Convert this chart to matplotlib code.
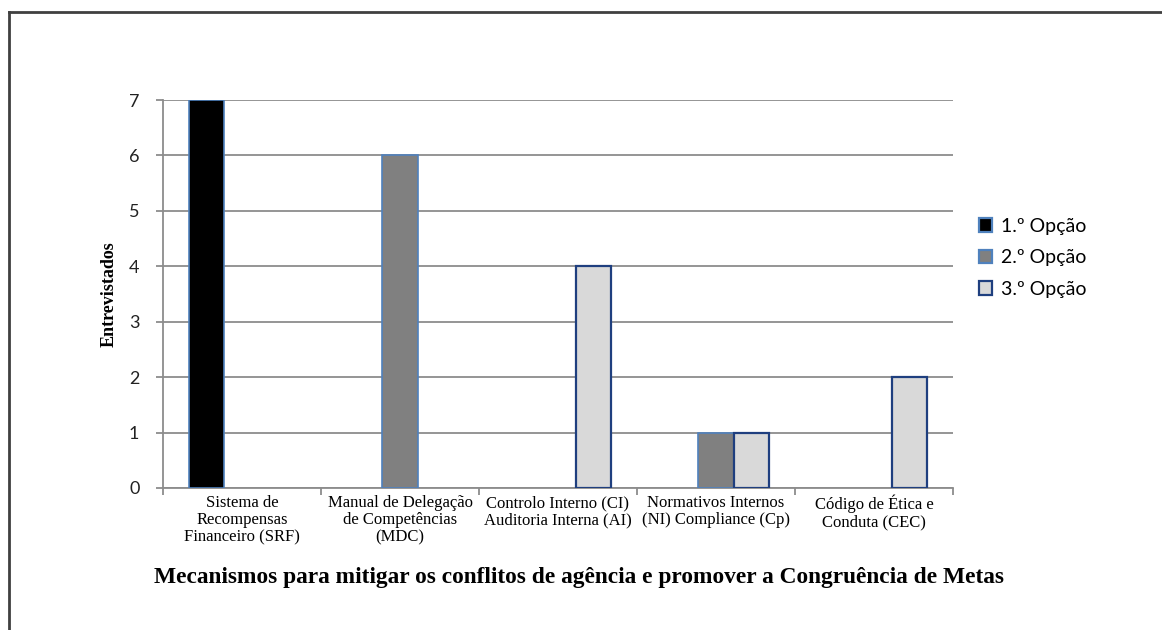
import numpy as np
import matplotlib
matplotlib.use("Agg")
import matplotlib.pyplot as plt
from matplotlib.patches import Patch
from matplotlib.lines import Line2D

# interview answers per mechanism
categorias = [
    "Sistema de\nRecompensas\nFinanceiro (SRF)",
    "Manual de Delegação\nde Competências\n(MDC)",
    "Controlo Interno (CI)\nAuditoria Interna (AI)",
    "Normativos Internos\n(NI) Compliance (Cp)",
    "Código de Ética e\nConduta (CEC)",
]
opcao1 = [7, 0, 0, 0, 0]
opcao2 = [0, 6, 0, 1, 0]
opcao3 = [0, 0, 4, 1, 2]
series_nomes = ["1.º Opção", "2.º Opção", "3.º Opção"]

fills = ["#000000", "#808080", "#d9d9d9"]
edges = ["#4f81bd", "#4f81bd", "#1f3f7f"]
edge_w = [1.2, 1.2, 1.6]

fig = plt.figure(figsize=(11.62, 6.3), dpi=100)
ax = fig.add_axes([163 / 1162, 1 - 488 / 630, 790 / 1162, 388 / 630])

x = np.arange(len(categorias))
w = 0.225
for k, vals in enumerate([opcao1, opcao2, opcao3]):
    vals = np.array(vals, dtype=float)
    m = vals > 0
    ax.bar(x[m] + (k - 1) * w, vals[m], width=w, color=fills[k],
           edgecolor=edges[k], linewidth=edge_w[k], zorder=3)

ax.set_xlim(-0.5, 4.5)
ax.set_ylim(0, 7)
ax.set_yticks(range(8))
ax.yaxis.grid(True, color="#8c8c8c", linewidth=1.3, zorder=0)
ax.set_axisbelow(True)

for s in ["top", "right"]:
    ax.spines[s].set_visible(False)
ax.spines["left"].set_color("#8c8c8c")
ax.spines["bottom"].set_color("#8c8c8c")
ax.spines["left"].set_linewidth(1.3)
ax.spines["bottom"].set_linewidth(1.3)

ax.tick_params(axis="y", length=5, color="#8c8c8c", width=1.3, pad=12,
               labelsize=13)
for t in ax.get_yticklabels():
    t.set_fontfamily("Lato")
    t.set_color("#222222")

ax.set_xticks(x)
ax.set_xticklabels(categorias, fontfamily="Liberation Serif", fontsize=12,
                   linespacing=1.1)
ax.set_xticks(np.arange(-0.5, 5, 1), minor=True)
ax.tick_params(axis="x", which="major", length=0, pad=5)
ax.tick_params(axis="x", which="minor", length=5, color="#8c8c8c", width=1.3)

ax.set_ylabel("Entrevistados", fontfamily="Liberation Serif",
              fontweight="bold", fontsize=13)
ax.yaxis.set_label_coords(-0.058, 0.5)

fig.text(579 / 1162, 1 - 578 / 630,
         "Mecanismos para mitigar os conflitos de agência e promover a Congruência de Metas",
         ha="center", va="center", fontfamily="Liberation Serif",
         fontweight="bold", fontsize=16.8)

handles = [Patch(facecolor=fills[k], edgecolor=edges[k], linewidth=1.6)
           for k in range(3)]
fig.legend(handles, series_nomes, loc="center left",
           bbox_to_anchor=(961 / 1162, 1 - 258 / 630), frameon=False,
           prop={"family": "Lato", "size": 14}, handlelength=0.7,
           handleheight=0.7, handletextpad=0.45, labelspacing=0.75)

# frame lines along the top and left
fig.add_artist(Line2D([9 / 1162, 1], [1 - 11.5 / 630, 1 - 11.5 / 630],
                      transform=fig.transFigure, color="#404040", linewidth=2))
fig.add_artist(Line2D([9 / 1162, 9 / 1162], [0, 1 - 11.5 / 630],
                      transform=fig.transFigure, color="#404040", linewidth=2))

fig.savefig("out.png", dpi=100)
